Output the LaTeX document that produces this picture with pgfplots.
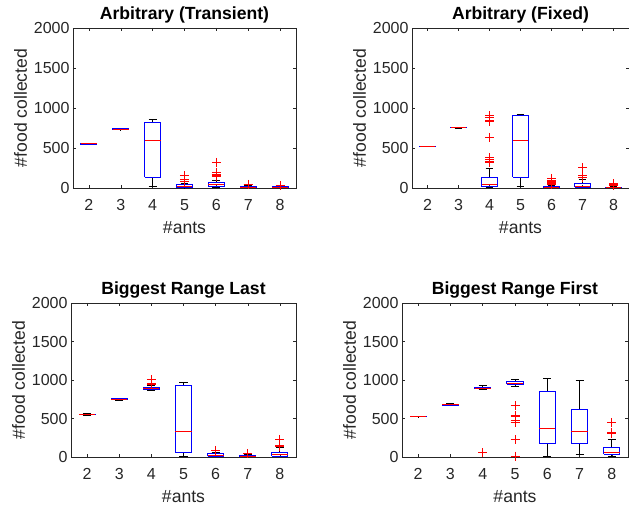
\documentclass[border=0pt]{standalone}
\usepackage{fontspec}
\setmainfont{Liberation Sans}
\usepackage{pgfplots}
\pgfplotsset{compat=1.18}
\definecolor{axgray}{gray}{0.15}
\definecolor{mlblue}{rgb}{0,0,1}
\definecolor{mlred}{rgb}{1,0,0}
\pgfplotsset{
  mlaxis/.style={
    scale only axis, anchor=south west,
    xmin=1.5, xmax=8.5, ymin=0, ymax=2000,
    xtick={2,3,4,5,6,7,8}, ytick={0,500,1000,1500,2000},
    tick align=inside, major tick length=3pt,
    axis line style={axgray, line width=0.5pt},
    tick style={axgray, line width=0.5pt},
    ticklabel style={font=\fontsize{16}{18}\selectfont, text=axgray},
    xticklabel style={yshift=-8pt},
    label style={font=\fontsize{17.6}{20}\selectfont, text=axgray},
    xlabel style={yshift=-4pt},
    title style={font=\fontsize{17.6}{20}\selectfont\bfseries, yshift=-5pt},
    xlabel={\#ants}, ylabel={\#food collected},
    /pgf/number format/assume math mode=true,
    /pgf/number format/1000 sep={},
    clip=false,
  },
}
% #1 position, #2 lower whisker, #3 lower quartile, #4 median, #5 upper quartile, #6 upper whisker
\newcommand{\bx}[6]{%
  \pgfmathsetmacro\xa{#1-0.25}\pgfmathsetmacro\xb{#1+0.25}%
  \pgfmathsetmacro\ca{#1-0.125}\pgfmathsetmacro\cb{#1+0.125}%
  \addplot[draw=black, line width=1pt] coordinates {(#1,#2) (#1,#3)};
  \addplot[draw=black, line width=1pt] coordinates {(#1,#5) (#1,#6)};
  \addplot[draw=black, line width=1pt] coordinates {(\ca,#2) (\cb,#2)};
  \addplot[draw=black, line width=1pt] coordinates {(\ca,#6) (\cb,#6)};
  \addplot[draw=mlblue, line width=1pt, line join=miter] coordinates {(\xa,#3) (\xb,#3) (\xb,#5) (\xa,#5) (\xa,#3)};
  \addplot[draw=mlred, line width=1pt] coordinates {(\xa,#4) (\xb,#4)};
}
\newcommand{\outl}{\addplot[only marks, mark=+, mark size=4.5pt, draw=mlred, mark options={draw=mlred, line width=1pt}]}
\begin{document}
\begin{tikzpicture}[x=1pt,y=1pt]
\path[use as bounding box] (0,0) rectangle (629,508);
% Top left
\begin{axis}[mlaxis, at={(73pt,320pt)}, width=223pt, height=160pt, title={Arbitrary (Transient)}]
\bx{2}{540}{546}{550}{554}{560}
\bx{3}{725}{730}{735}{740}{748}
\bx{4}{21}{133}{590}{822}{860}
\bx{5}{0}{5}{18}{45}{60}
\bx{6}{5}{15}{45}{68}{98}
\bx{7}{0}{3}{10}{22}{30}
\bx{8}{0}{2}{6}{14}{20}
\outl coordinates {(5,150) (5,110) (5,80) (6,320) (6,190) (6,165) (6,150) (6,140) (7,40) (7,45) (8,30)};
\end{axis}
% Top right
\begin{axis}[mlaxis, at={(412pt,320pt)}, width=217pt, height=160pt, title={Arbitrary (Fixed)}]
\bx{2}{520}{521}{522}{523}{524}
\bx{3}{745}{750}{755}{758}{762}
\bx{4}{0}{17}{42}{133}{246}
\bx{5}{21}{133}{595}{900}{917}
\bx{6}{0}{2}{6}{15}{30}
\bx{7}{0}{8}{22}{50}{100}
\bx{8}{0}{2}{6}{12}{20}
\outl coordinates {(4,905) (4,880) (4,845) (4,830) (4,633) (4,380) (4,350) (4,335) (4,320)
  (6,120) (6,95) (6,80) (6,65) (6,50) (6,40) (7,258) (7,150) (7,137) (8,25) (8,40) (8,55)};
\end{axis}
% Bottom left
\begin{axis}[mlaxis, at={(71pt,51pt)}, width=225pt, height=154pt, title={Biggest Range Last}]
\bx{2}{542}{547}{552}{557}{562}
\bx{3}{735}{742}{750}{758}{765}
\bx{4}{862}{880}{892}{905}{930}
\bx{5}{0}{61}{329}{931}{965}
\bx{6}{0}{10}{25}{40}{60}
\bx{7}{0}{3}{10}{20}{30}
\bx{8}{0}{9}{35}{56}{117}
\outl coordinates {(4,1000) (4,950) (4,940) (6,87) (7,40) (8,230) (8,150) (8,130)};
\end{axis}
% Bottom right
\begin{axis}[mlaxis, at={(402pt,51pt)}, width=226pt, height=154pt, title={Biggest Range First}]
\bx{2}{520}{522}{524}{526}{528}
\bx{3}{665}{672}{678}{685}{692}
\bx{4}{883}{890}{895}{900}{926}
\bx{5}{922}{944}{961}{983}{1009}
\bx{6}{4}{169}{368}{857}{1017}
\bx{7}{26}{169}{325}{619}{987}
\bx{8}{0}{35}{61}{117}{229}
\outl coordinates {(4,56) (5,665) (5,540) (5,525) (5,480) (5,450) (5,230) (5,10) (8,446) (8,320) (8,300)};
\end{axis}
\end{tikzpicture}
\end{document}
